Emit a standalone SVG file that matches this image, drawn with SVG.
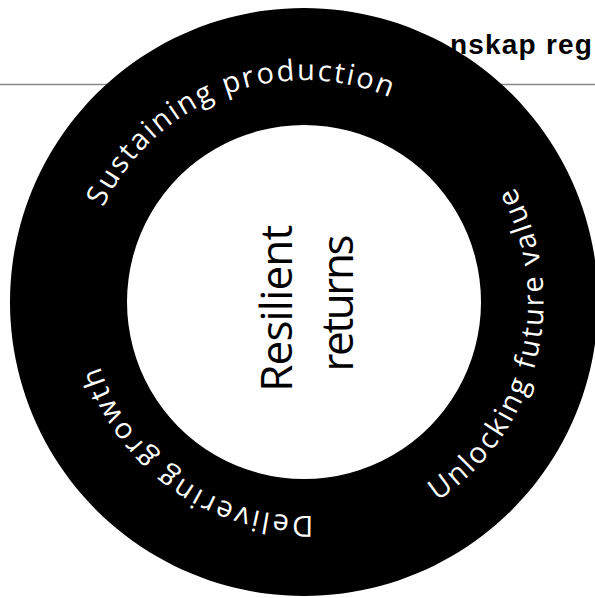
<svg xmlns="http://www.w3.org/2000/svg" width="595" height="598" viewBox="0 0 595 598">
  <style>
    .hdr { font-family: "Liberation Sans", Arial, sans-serif; font-weight: bold; font-size: 28px; fill: #000; letter-spacing: 1.2px; }
    .arc { font-family: "Open Sans", "Noto Sans", sans-serif; font-size: 29px; fill: #fff; }
    .mid { font-family: "Open Sans", "Noto Sans", sans-serif; font-size: 44px; fill: #000; }
  </style>
  <defs>
    <path id="pTop" d="M90.6,363.2 A222,222 0 0 1 503.5,204.7"/>
    <path id="pBot" d="M467.9,439.6 A214,214 0 0 1 118.7,195"/>
    <path id="pRight" d="M267.7,539.2 A240,240 0 0 0 380.9,74.7"/>
  </defs>
  <rect x="0" y="0" width="595" height="598" fill="#fff"/>
  <g id="header">
    <text class="hdr" x="450" y="54">nskap reg</text>
    <line x1="0" y1="84.5" x2="595" y2="84.5" stroke="#888" stroke-width="1.5"/>
  </g>
  <g id="ring">
    <path d="M304,8 A294,294 0 1 1 303.99,8 Z M304,125 A177,177 0 1 0 304.01,125 Z" fill="#000" fill-rule="evenodd"/>
    <text class="arc"><textPath href="#pTop" startOffset="50%" text-anchor="middle" textLength="339" lengthAdjust="spacing">Sustaining production</textPath></text>
    <text class="arc"><textPath href="#pRight" startOffset="50%" text-anchor="middle" textLength="355" lengthAdjust="spacing">Unlocking future value</textPath></text>
    <text class="arc"><textPath href="#pBot" startOffset="50%" text-anchor="middle" textLength="280" lengthAdjust="spacing">Delivering growth</textPath></text>
  </g>
  <g id="center">
    <text class="mid" transform="translate(304,303) rotate(-90)" text-anchor="middle">
      <tspan x="0" y="-12" textLength="167" lengthAdjust="spacing">Resilient</tspan>
      <tspan x="0" y="49" textLength="137" lengthAdjust="spacing">returns</tspan>
    </text>
  </g>
</svg>
